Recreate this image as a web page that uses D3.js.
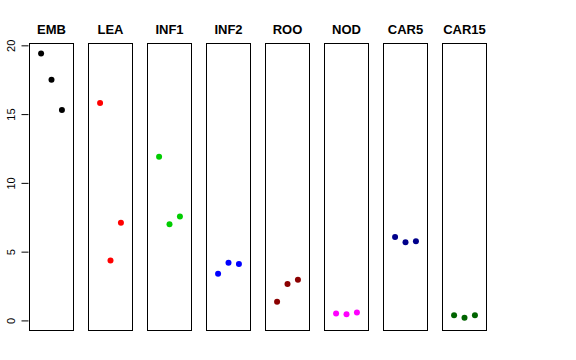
<!DOCTYPE html>
<html><head><meta charset="utf-8">
<script src="https://cdn.jsdelivr.net/npm/d3@7"></script>
<style>body{margin:0;background:#fff}svg{display:block}</style>
</head><body>
<script>
const categories = ["EMB","LEA","INF1","INF2","ROO","NOD","CAR5","CAR15"];
const colors = ["#000000","#FF0000","#00CD00","#0000FF","#8B0000","#FF00FF","#00008B","#006400"];
const values = [
  [19.4, 17.5, 15.3],
  [15.8, 4.35, 7.1],
  [11.9, 7.0, 7.55],
  [3.4, 4.2, 4.1],
  [1.35, 2.65, 2.95],
  [0.5, 0.45, 0.57],
  [6.07, 5.68, 5.75],
  [0.38, 0.2, 0.38]
];
const yTicks = [0, 5, 10, 15, 20];

(function () {
const W = 576, H = 360;
const svg = d3.select("body").append("svg").attr("width", W).attr("height", H);
const pTop = 43, pBottom = 331, panelW = 45, step = 59, left0 = 29;
const y = d3.scaleLinear().domain([-0.77, 20.17]).range([pBottom, pTop]);
const x = d3.scaleLinear().domain([-0.16, 4.16]).range([0, panelW]);

// y axis
const ax = svg.append("g").attr("transform", `translate(${left0 - 0.5},0)`);
ax.call(d3.axisLeft(y).tickValues(yTicks).tickSize(7).tickPadding(0).tickFormat(d3.format("d")));
ax.select(".domain").remove();
ax.selectAll(".tick line").attr("stroke", "#000");
ax.selectAll(".tick text")
  .attr("transform", "rotate(-90)")
  .attr("x", 0).attr("y", -14)
  .attr("dy", 0)
  .attr("text-anchor", "middle")
  .style("font-family", "'Liberation Sans', Arial, sans-serif")
  .style("font-size", "11px")
  .attr("fill", "#000");

categories.forEach((cat, i) => {
  const px = left0 + i * step;
  const g = svg.append("g").attr("transform", `translate(${px},0)`);
  g.append("rect").attr("x", 0.5).attr("y", pTop + 0.5)
    .attr("width", panelW - 1).attr("height", pBottom - pTop - 1)
    .attr("fill", "none").attr("stroke", "#000").attr("stroke-width", 1);
  g.append("text").attr("x", panelW / 2).attr("y", 33.5)
    .attr("text-anchor", "middle")
    .style("font-family", "'Liberation Sans', Arial, sans-serif")
    .style("font-weight", "bold").style("font-size", "13px")
    .text(cat);
  g.selectAll("circle").data(values[i]).enter().append("circle")
    .attr("cx", (d, j) => x(j + 1))
    .attr("cy", d => y(d))
    .attr("r", 3)
    .attr("fill", colors[i]);
});
})();
</script>
</body></html>
